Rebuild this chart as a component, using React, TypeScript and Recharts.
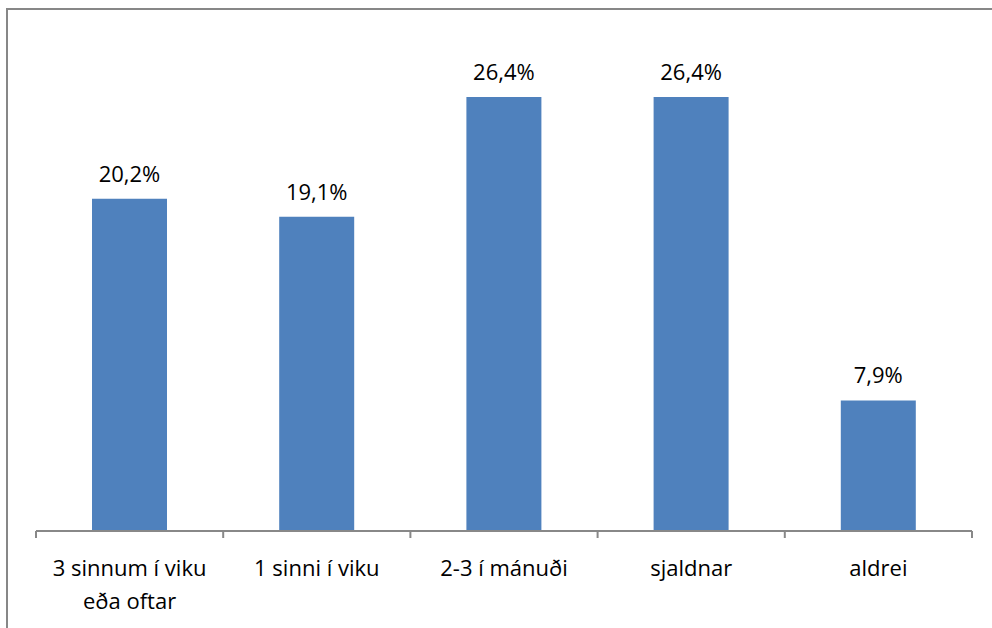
import { BarChart, Bar, XAxis, YAxis, LabelList } from 'recharts'

const categories = ['3 sinnum í viku\neða oftar', '1 sinni í viku', '2-3 í mánuði', 'sjaldnar', 'aldrei']
const shares = [20.2, 19.1, 26.4, 26.4, 7.9]
const boundaryTicks = [0, 1, 2, 3, 4, 5]

const data = categories.map((name, i) => ({ name, share: shares[i], pos: i + 0.5 }))

const FONT = '"Open Sans", "Liberation Sans", sans-serif'

// eslint-disable-next-line @typescript-eslint/no-explicit-any
function CategoryTick(props: any) {
  const { x, y, payload } = props
  const lines = String(payload.value).split('\n')
  return (
    <text x={x} y={y + 38} textAnchor="middle" fill="#000" fontSize={22} fontFamily={FONT}>
      {lines.map((l, i) => (
        <tspan key={i} x={x} dy={i === 0 ? 0 : 33}>
          {l}
        </tspan>
      ))}
    </text>
  )
}

export default function App() {
  return (
    <div style={{ position: 'absolute', left: 0, top: 0, width: 992, height: 628, background: '#fff', overflow: 'hidden' }}>
      <div
        style={{
          position: 'absolute',
          left: 6,
          top: 8,
          width: 1000,
          height: 700,
          borderLeft: '2px solid #878787',
          borderTop: '2px solid #878787',
        }}
      />
      <div style={{ position: 'absolute', left: 0, top: 0 }}>
        <BarChart width={992} height={628} data={data} margin={{ top: 38, right: 20, left: 36, bottom: 96 }}>
          <YAxis hide domain={[0, 30]} />
          <XAxis
            xAxisId="cat"
            dataKey="name"
            axisLine={false}
            tickLine={false}
            interval={0}
            height={1}
            tick={<CategoryTick />}
          />
          <XAxis
            xAxisId="edge"
            type="number"
            dataKey="pos"
            domain={[0, 5]}
            ticks={boundaryTicks}
            interval={0}
            tickFormatter={() => ''}
            tickSize={7}
            height={1}
            axisLine={{ stroke: '#888888', strokeWidth: 2 }}
            tickLine={{ stroke: '#888888', strokeWidth: 2 }}
          />
          <Bar xAxisId="cat" dataKey="share" fill="#4F81BD" barSize={75} isAnimationActive={false}>
            <LabelList
              dataKey="share"
              position="top"
              offset={17}
              formatter={(v: number) => `${v.toFixed(1).replace('.', ',')}%`}
              style={{ fontSize: 22, fontFamily: FONT, fill: '#000' }}
            />
          </Bar>
        </BarChart>
      </div>
    </div>
  )
}
